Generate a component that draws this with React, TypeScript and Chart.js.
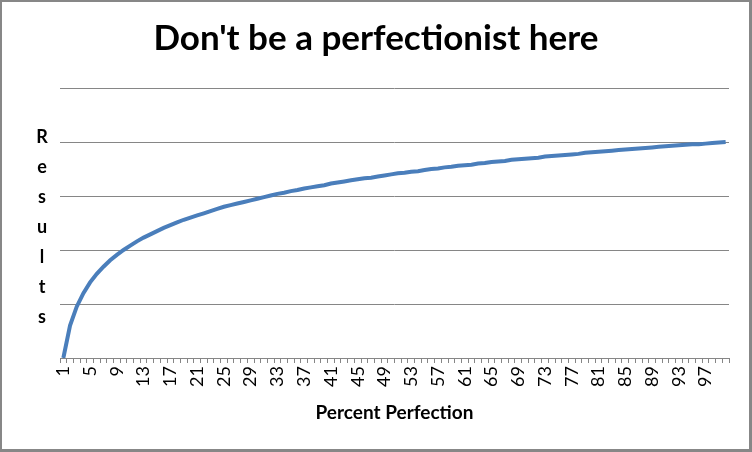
import React, { useEffect, useRef } from 'react';
import { Chart, registerables } from 'chart.js';

Chart.register(...registerables);

const chartTitle = "Don't be a perfectionist here";
const xAxisTitle = 'Percent Perfection';
const yAxisTitleLetters = ['R', 'e', 's', 'u', 'l', 't', 's'];

const categories = [
  '1', '2', '3', '4', '5', '6', '7', '8', '9', '10',
  '11', '12', '13', '14', '15', '16', '17', '18', '19', '20',
  '21', '22', '23', '24', '25', '26', '27', '28', '29', '30',
  '31', '32', '33', '34', '35', '36', '37', '38', '39', '40',
  '41', '42', '43', '44', '45', '46', '47', '48', '49', '50',
  '51', '52', '53', '54', '55', '56', '57', '58', '59', '60',
  '61', '62', '63', '64', '65', '66', '67', '68', '69', '70',
  '71', '72', '73', '74', '75', '76', '77', '78', '79', '80',
  '81', '82', '83', '84', '85', '86', '87', '88', '89', '90',
  '91', '92', '93', '94', '95', '96', '97', '98', '99', '100',
];

const shownTickLabels = [
  '1', '5', '9', '13', '17', '21', '25', '29', '33', '37', '41', '45', '49',
  '53', '57', '61', '65', '69', '73', '77', '81', '85', '89', '93', '97',
];

const results = [
  0.0, 0.6, 0.95, 1.2, 1.4, 1.56, 1.69, 1.81, 1.91, 2.0,
  2.08, 2.16, 2.23, 2.29, 2.35, 2.41, 2.46, 2.51, 2.56, 2.6,
  2.64, 2.68, 2.72, 2.76, 2.8, 2.83, 2.86, 2.89, 2.92, 2.95,
  2.98, 3.01, 3.04, 3.06, 3.09, 3.11, 3.14, 3.16, 3.18, 3.2,
  3.23, 3.25, 3.27, 3.29, 3.31, 3.33, 3.34, 3.36, 3.38, 3.4,
  3.42, 3.43, 3.45, 3.46, 3.48, 3.5, 3.51, 3.53, 3.54, 3.56,
  3.57, 3.58, 3.6, 3.61, 3.63, 3.64, 3.65, 3.67, 3.68, 3.69,
  3.7, 3.71, 3.73, 3.74, 3.75, 3.76, 3.77, 3.78, 3.8, 3.81,
  3.82, 3.83, 3.84, 3.85, 3.86, 3.87, 3.88, 3.89, 3.9, 3.91,
  3.92, 3.93, 3.94, 3.95, 3.96, 3.96, 3.97, 3.98, 3.99, 4.0,
];

const yMin = 0;
const yMax = 5;
const yStep = 1;

const FONT = 'Lato, "Open Sans", sans-serif';
const GRID = '#868686';

const textPlugin = {
  id: 'chartTexts',
  afterDraw(chart: any) {
    const { ctx, chartArea, width } = chart;
    ctx.save();
    ctx.fillStyle = '#000000';
    ctx.textAlign = 'center';
    ctx.textBaseline = 'middle';
    // main title centred on the whole chart
    ctx.font = `bold 35px ${FONT}`;
    ctx.fillText(chartTitle, width / 2, 39);
    // stacked y-axis title
    ctx.font = `bold 18px ${FONT}`;
    const spacing = 30;
    const mid = (chartArea.top + chartArea.bottom) / 2 + 4;
    const n = yAxisTitleLetters.length;
    yAxisTitleLetters.forEach((ch, i) => {
      ctx.fillText(ch, 42, mid + (i - (n - 1) / 2) * spacing);
    });
    ctx.restore();
  },
};

export default function App() {
  const canvasRef = useRef<HTMLCanvasElement | null>(null);

  useEffect(() => {
    document.body.style.margin = '0';
    const canvas = canvasRef.current;
    if (!canvas) return;
    const chart = new Chart(canvas, {
      type: 'line',
      data: {
        labels: categories,
        datasets: [
          {
            data: results,
            borderColor: '#4A7EBB',
            borderWidth: 4,
            pointRadius: 0,
            tension: 0,
            fill: false,
          },
        ],
      },
      options: {
        animation: false,
        responsive: false,
        maintainAspectRatio: false,
        layout: { padding: { left: 0, right: 23, top: 88, bottom: 0 } },
        plugins: {
          legend: { display: false },
          tooltip: { enabled: false },
          title: { display: false },
        },
        scales: {
          x: {
            type: 'category',
            offset: true,
            afterFit: (scale: any) => {
              scale.height = 94;
            },
            grid: {
              display: true,
              drawOnChartArea: false,
              drawTicks: true,
              tickLength: 5,
              color: GRID,
              offset: true,
            },
            border: { display: true, color: GRID, width: 1 },
            ticks: {
              autoSkip: false,
              maxRotation: 90,
              minRotation: 90,
              padding: 3,
              color: '#000000',
              font: { family: FONT, size: 18 },
              callback: function (this: any, value: any) {
                const label = this.getLabelForValue(value);
                return shownTickLabels.includes(label) ? label : '';
              },
            },
            title: {
              display: true,
              text: xAxisTitle,
              color: '#000000',
              font: { family: FONT, weight: 'bold', size: 19, lineHeight: 1.2 },
              padding: { top: 0, bottom: 27.6 },
            },
          },
          y: {
            min: yMin,
            max: yMax,
            afterFit: (scale: any) => {
              scale.width = 60;
            },
            grid: { color: GRID, drawTicks: false, lineWidth: 1 },
            border: { display: false },
            ticks: { display: false, stepSize: yStep },
          },
        },
      },
      plugins: [textPlugin],
    });
    return () => chart.destroy();
  }, []);

  return (
    <div style={{ position: 'relative', width: 752, height: 452, background: '#ffffff' }}>
      <canvas ref={canvasRef} width={752} height={452} style={{ display: 'block', width: 752, height: 452 }} />
      <div
        style={{
          position: 'absolute',
          left: 0,
          top: 0,
          width: 752,
          height: 452,
          boxSizing: 'border-box',
          borderStyle: 'solid',
          borderColor: '#878787',
          borderWidth: '2px 3px 3px 2px',
          pointerEvents: 'none',
        }}
      />
    </div>
  );
}
